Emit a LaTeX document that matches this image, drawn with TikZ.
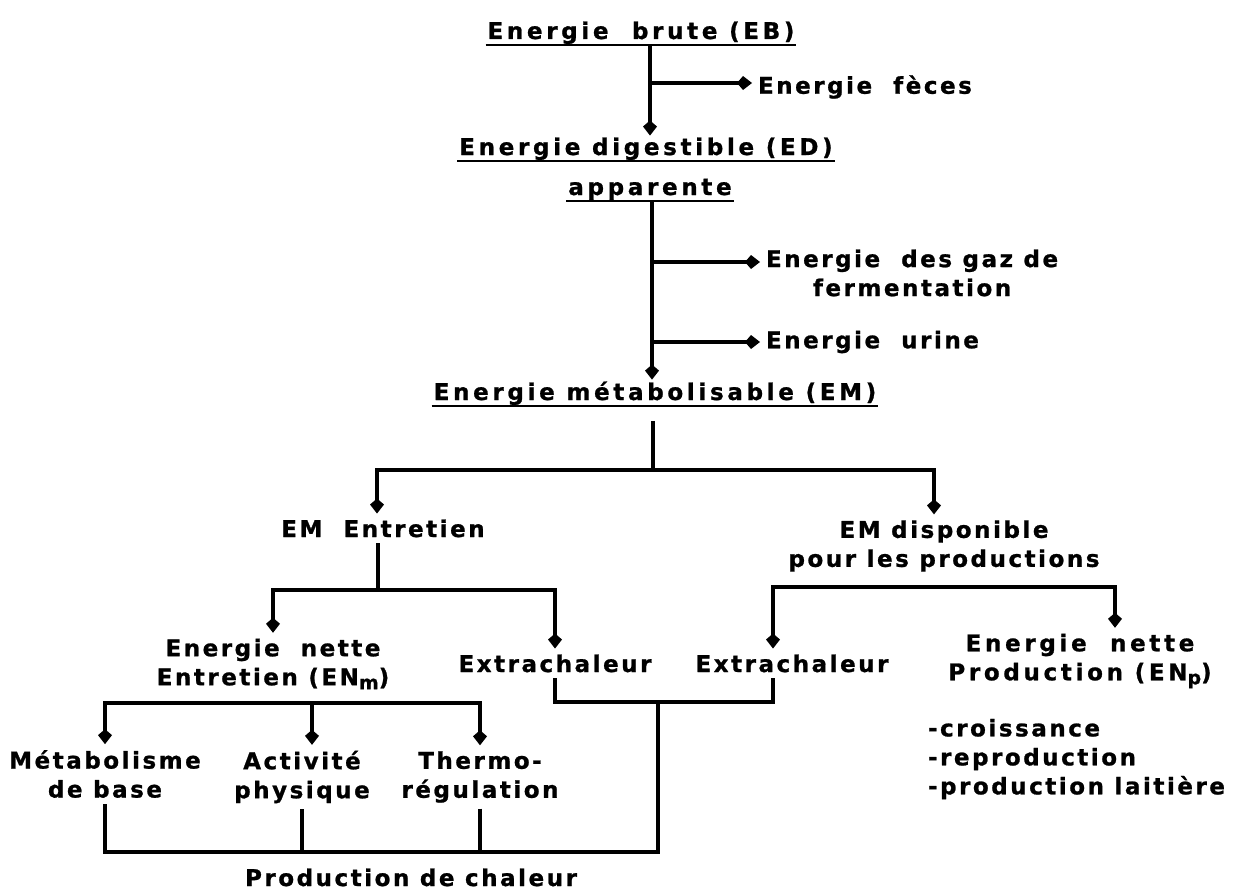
\documentclass[tikz,border=0pt]{standalone}
\usepackage{fontspec}
\setmainfont{DejaVu Sans}[LetterSpace=11, FakeBold=1]
\newfontfamily\titrefont{DejaVu Sans}[LetterSpace=16, FakeBold=1]
\usetikzlibrary{arrows.meta}
\newcommand{\indice}[1]{\raisebox{-4pt}{\fontsize{19}{19}\selectfont #1}}

\begin{document}
\begin{tikzpicture}[x=1pt,y=-1pt,
    every node/.style={font=\bfseries\fontsize{23}{29}\selectfont, inner sep=0pt, outer sep=6pt},
    titre/.style={outer sep=2pt, font=\titrefont\bfseries\fontsize{23}{29}\selectfont},
    large/.style={font=\titrefont\bfseries\fontsize{23}{29}\selectfont},
    trait/.style={line width=3.2pt},
    fleche/.style={trait, -{Kite[length=15pt,width=14pt,inset=6pt]}},
    souligne/.style={line width=2.6pt}]
\useasboundingbox (0,0) rectangle (1236,891);

% titres souligne
\node[titre, anchor=base] (eb) at (641,39) {Energie~ brute (EB)};
\node[titre, anchor=base] (ed) at (646,155) {Energie digestible (ED)};
\node[titre, anchor=base] (app) at (650,195) {apparente};
\node[titre, anchor=base] (em) at (655,400) {Energie métabolisable (EM)};
\foreach \t in {eb,ed,app,em}
    \draw[souligne] ([yshift=-6pt]\t.base west) -- ([yshift=-6pt]\t.base east);

% pertes
\node[anchor=west] (feces) at (752,87) {Energie~ fèces};
\node[anchor=west, align=center] (gaz) at (760,273) {Energie~ des gaz de\\fermentation};
\node[anchor=west] (urine) at (760,342) {Energie~ urine};

% repartition
\node[anchor=base] (entr) at (383,537) {EM~ Entretien};
\node[align=center] (disp) at (944,546) {EM disponible\\pour les productions};
\node[align=center] (enm) at (273,664) {Energie~ nette\\Entretien (EN\indice{m})};
\node[anchor=base] (xl) at (555,672) {Extrachaleur};
\node[anchor=base] (xr) at (792,672) {Extrachaleur};
\node[large, align=center] (enp) at (1080,661) {Energie~ nette\\Production (EN\indice{p})};
\node[anchor=west, align=left] (liste) at (922,759) {-croissance\\-reproduction\\-production laitière};
\node[align=center] (metab) at (105,774) {Métabolisme\\de base};
\node[align=center] (act) at (302,777) {Activité\\physique};
\node[align=center] (therm) at (480,777) {Thermo-\\régulation};
\node[anchor=base] (chal) at (411,886) {Production de chaleur};

\coordinate (j1) at (650,83);
\coordinate (j2) at (652,262);
\coordinate (j3) at (652,342);
\coordinate (b1) at (653,470);
\coordinate (b2) at (378,590);
\coordinate (b3) at (944,587);
\coordinate (b4) at (658,702);
\coordinate (b5) at (0,852);
\coordinate (b6) at (312,703);
\coordinate (kxr) at (773,0);
\coordinate (kenp) at (1115,0);

% flux d'energie
\draw[fleche] (eb.south -| j1) -- (j1 |- ed.north);
\draw[fleche] (j1) -- (j1 -| feces.west);
\draw[fleche] (app.south -| j2) -- (j2 |- em.north);
\draw[fleche] (j2) -- (j2 -| gaz.west);
\draw[fleche] (j3) -- (j3 -| urine.west);

\draw[trait, shorten <=14pt] (em.south -| b1) -- (b1);
\draw[fleche] (b1) -| ([xshift=-6pt]entr.north);
\draw[fleche] (b1) -| ([xshift=-10pt]disp.north);

\draw[trait] (b2 |- entr.south) -- (b2);
\draw[fleche] (b2) -| (enm.north);
\draw[fleche] (b2) -| (xl.north);
\draw[fleche] (b3) -| (kxr |- xr.north);
\draw[fleche] (b3) -| (kenp |- enp.north);

\draw[fleche] (b6) -| (metab.north);
\draw[fleche] (b6) -| (therm.north);
\draw[fleche] (b6) -- (b6 |- act.north);

% chaleur
\draw[trait] (xl.south) |- (kxr |- b4) -- (kxr |- xr.south);
\draw[trait] (b4) |- (metab.south |- b5) -- (metab.south);
\draw[trait] (act.south) -- (act.south |- b5);
\draw[trait] (therm.south) -- (therm.south |- b5);
\end{tikzpicture}
\end{document}
